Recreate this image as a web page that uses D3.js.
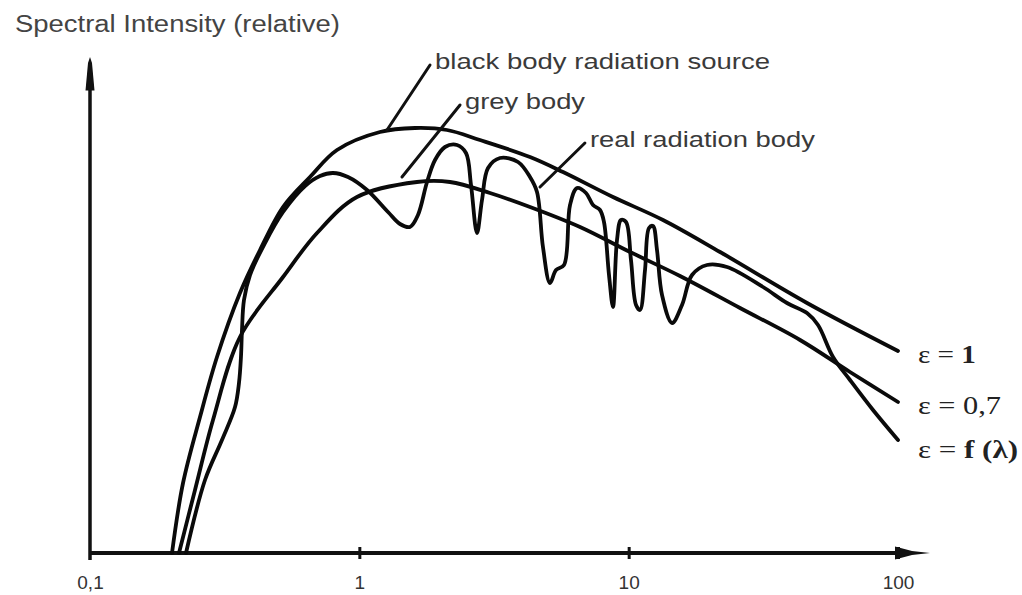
<!DOCTYPE html>
<html>
<head>
<meta charset="utf-8">
<script src="https://cdn.jsdelivr.net/npm/d3@7"></script>
<style>
  html, body { margin: 0; padding: 0; background: #fff; }
  svg { display: block; }
</style>
</head>
<body>
<svg id="chart" width="1022" height="595"></svg>
<script>
// ---------------- DATA ----------------
const tickValues = [0.1, 1, 10, 100];
const tickLabels = ["0,1", "1", "10", "100"];

// black body (epsilon = 1)
const lambdaBlack = [0.2016, 0.2215, 0.2561, 0.2961, 0.3604, 0.4278, 0.5208, 0.6557, 0.8263, 1.193, 1.609, 2.116, 2.805, 4.302, 5.705, 8.746, 13.41, 21.84, 45.94, 100];
const intensityBlack = [0, 14, 27.2, 39.2, 52, 60.6, 69.2, 75.2, 80.6, 84.2, 85, 84.6, 82.6, 79.2, 76.2, 71.2, 66.6, 60.2, 50, 40.4];

// grey body (epsilon = 0,7)
const lambdaGrey = [0.214, 0.2454, 0.2862, 0.3604, 0.5208, 0.6964, 0.980, 1.637, 2.171, 3.056, 4.302, 6.597, 10.12, 15.51, 25.91, 43.28, 66.34, 100];
const intensityGrey = [0, 12.6, 26.6, 43.2, 55.2, 64, 71.2, 74.2, 74.2, 72, 69.2, 65.2, 60.2, 55.4, 49, 42.6, 36.2, 30.2];

// real radiation body (epsilon = f(lambda))
const lambdaReal = [0.2272, 0.2673, 0.3090, 0.3455, 0.3574, 0.3635, 0.3667, 0.3730, 0.3927, 0.4465, 0.5208, 0.6286, 0.7145, 0.7985, 0.9075, 1.068, 1.278, 1.416, 1.542, 1.651, 1.784, 1.910, 2.080, 2.305, 2.489, 2.598, 2.734, 2.854, 3.005, 3.329, 3.883, 4.302, 4.567, 4.806, 5.104, 5.373, 5.753, 6.057, 6.431, 6.944, 7.373, 7.827, 8.097, 8.453, 8.746, 9.051, 9.367, 9.775, 10.20, 10.65, 11.02, 11.50, 11.90, 12.31, 12.74, 13.30, 14.49, 15.78, 17.19, 19.54, 23.18, 31.54, 38.71, 45.94, 50.47, 57.38, 66.34, 80.76, 100];
const intensityReal = [0, 14.6, 22.6, 29.2, 34, 39.2, 44.6, 50.6, 55.6, 62, 68.2, 73.4, 75.4, 76, 75.2, 72.6, 68.2, 65.8, 65.2, 67.6, 74.2, 78.6, 81.2, 81.6, 80, 73.6, 64, 70.6, 77, 79, 78.2, 75.2, 72.2, 61.2, 54, 56.6, 57.6, 69.6, 73, 72, 69.6, 68.6, 66.2, 55.6, 49.2, 62.6, 66.6, 66.2, 58.6, 49.6, 48.6, 56.6, 65, 65.4, 60.6, 51.6, 46, 49.6, 55.6, 57.6, 57.2, 53.2, 50, 48, 45.6, 39.2, 34.6, 28.6, 22.6];

// annotation leader lines: [lambda0, I0, lambda1, I1]
const leaderNames = ["black body radiation source", "grey body", "real radiation body"];
const leaderLambda0 = [1.267, 1.44, 4.686];
const leaderI0 = [84.6, 75.2, 73.2];
const leaderLambda1 = [1.83, 2.365, 6.88];
const leaderI1 = [97.6, 89.6, 82];
const leaderTextWidth = [335, 120, 225];

const epsLabels = [["ε = ", "1"], ["ε = ", "0,7"], ["ε = ", "f (λ)"]];
const epsBold = [true, false, true];
const epsWidth = [58, 83, 100];

// ---------------- DRAW ----------------
const svg = d3.select("#chart");
const x = d3.scaleLog().domain([0.1, 100]).range([90, 898]);
const y = d3.scaleLinear().domain([0, 100]).range([553, 53]);

// title
svg.append("text")
  .attr("x", 15).attr("y", 32)
  .attr("font-family", "Liberation Sans, Arial, sans-serif")
  .attr("font-size", 23)
  .attr("fill", "#444")
  .attr("textLength", 325).attr("lengthAdjust", "spacingAndGlyphs")
  .text("Spectral Intensity (relative)");

// y axis line with arrow
svg.append("line")
  .attr("x1", x(0.1)).attr("x2", x(0.1))
  .attr("y1", y(0) + 7).attr("y2", y(94))
  .attr("stroke", "#111").attr("stroke-width", 3.5);
svg.append("path")
  .attr("d", `M${x(0.1) - 4.5},${y(92.5)} L${x(0.1) - 2},${y(98)} L${x(0.1)},${y(99.2)} L${x(0.1) + 2},${y(98)} L${x(0.1) + 4.5},${y(92.5)} Z`)
  .attr("fill", "#111");

// x axis via d3 axis
const xAxis = d3.axisBottom(x)
  .tickValues(tickValues)
  .tickFormat((d, i) => tickLabels[i])
  .tickSize(6).tickSizeOuter(0);
const gx = svg.append("g").attr("transform", `translate(0,${y(0)})`).call(xAxis);
gx.select(".domain").remove();
gx.selectAll(".tick line")
  .attr("y1", -6).attr("y2", 6)
  .attr("stroke", "#111").attr("stroke-width", 3)
  .attr("display", (d) => d === 0.1 ? "none" : null);
gx.selectAll(".tick text")
  .attr("y", 36).attr("dy", 0)
  .attr("font-family", "Liberation Sans, Arial, sans-serif")
  .attr("font-size", 19)
  .attr("fill", "#333");
svg.append("line")
  .attr("x1", x(0.1)).attr("x2", x(100) + 2)
  .attr("y1", y(0)).attr("y2", y(0))
  .attr("stroke", "#111").attr("stroke-width", 4);
svg.append("path")
  .attr("d", `M${x(100) - 3},${y(0) - 6.5} L${x(100) + 14},${y(0) - 2} L${x(100) + 32},${y(0)} L${x(100) + 14},${y(0) + 2} L${x(100) - 3},${y(0) + 6.5} Z`)
  .attr("fill", "#111");

// curves
const line = d3.line()
  .x(d => x(d[0]))
  .y(d => y(d[1]))
  .curve(d3.curveCatmullRom.alpha(0.5));

const series = [
  [lambdaBlack, intensityBlack],
  [lambdaGrey, intensityGrey],
  [lambdaReal, intensityReal]
];
series.forEach(([lx, ly]) => {
  svg.append("path")
    .datum(lx.map((l, i) => [l, ly[i]]))
    .attr("d", line)
    .attr("fill", "none")
    .attr("stroke", "#0a0a0a")
    .attr("stroke-width", 3.8)
    .attr("stroke-linejoin", "round")
    .attr("stroke-linecap", "round");
});

// leader lines and labels
leaderNames.forEach((name, i) => {
  svg.append("line")
    .attr("x1", x(leaderLambda0[i])).attr("y1", y(leaderI0[i]))
    .attr("x2", x(leaderLambda1[i])).attr("y2", y(leaderI1[i]))
    .attr("stroke", "#111").attr("stroke-width", 3)
    .attr("stroke-linecap", "round");
  svg.append("text")
    .attr("x", x(leaderLambda1[i]) + 5)
    .attr("y", y(leaderI1[i]) + 4)
    .attr("font-family", "Liberation Sans, Arial, sans-serif")
    .attr("font-size", 22)
    .attr("fill", "#3a3a3a")
    .attr("textLength", leaderTextWidth[i]).attr("lengthAdjust", "spacingAndGlyphs")
    .text(name);
});

// epsilon labels at the right end of the curves
const ends = [intensityBlack[intensityBlack.length - 1], intensityGrey[intensityGrey.length - 1], intensityReal[intensityReal.length - 1]];
epsLabels.forEach((parts, i) => {
  const t = svg.append("text")
    .attr("x", x(100) + 20)
    .attr("y", y(ends[i]) + 12 + (i === 2 ? 6 : 0))
    .attr("font-family", "Liberation Serif, Times New Roman, serif")
    .attr("font-size", 25)
    .attr("fill", "#222")
    .attr("textLength", epsWidth[i]).attr("lengthAdjust", "spacingAndGlyphs");
  t.append("tspan").text(parts[0]);
  t.append("tspan").attr("font-weight", epsBold[i] ? "bold" : "normal").text(parts[1]);
});
</script>
</body>
</html>
